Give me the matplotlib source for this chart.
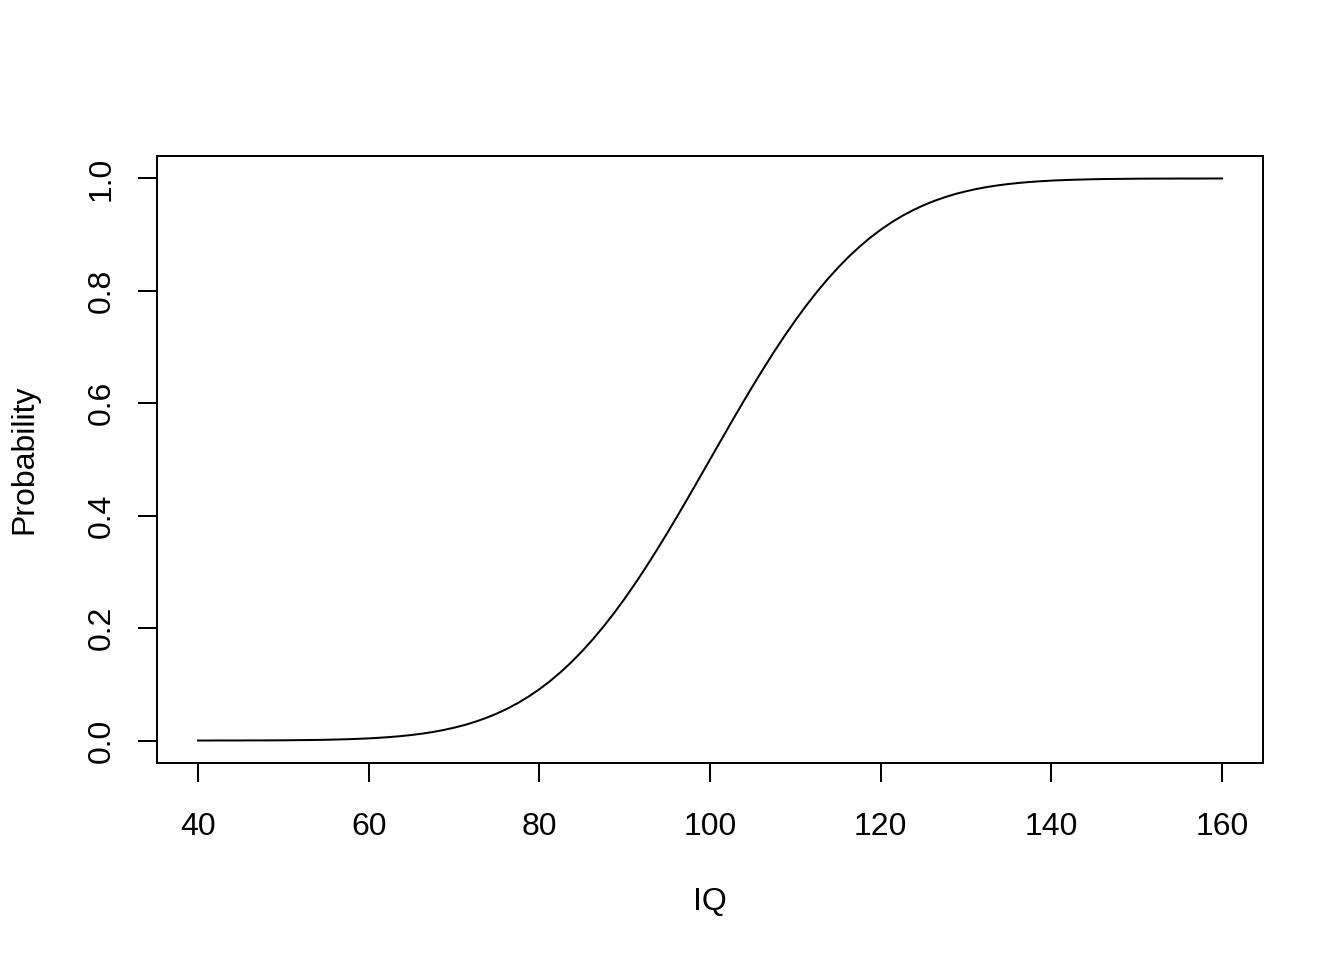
import matplotlib
matplotlib.use("Agg")
import matplotlib.pyplot as plt

# probability curve, every 1.25 IQ points
iq = [40, 41.25, 42.5, 43.75, 45, 46.25, 47.5, 48.75,
      50, 51.25, 52.5, 53.75, 55, 56.25, 57.5, 58.75,
      60, 61.25, 62.5, 63.75, 65, 66.25, 67.5, 68.75,
      70, 71.25, 72.5, 73.75, 75, 76.25, 77.5, 78.75,
      80, 81.25, 82.5, 83.75, 85, 86.25, 87.5, 88.75,
      90, 91.25, 92.5, 93.75, 95, 96.25, 97.5, 98.75,
      100, 101.25, 102.5, 103.75, 105, 106.25, 107.5, 108.75,
      110, 111.25, 112.5, 113.75, 115, 116.25, 117.5, 118.75,
      120, 121.25, 122.5, 123.75, 125, 126.25, 127.5, 128.75,
      130, 131.25, 132.5, 133.75, 135, 136.25, 137.5, 138.75,
      140, 141.25, 142.5, 143.75, 145, 146.25, 147.5, 148.75,
      150, 151.25, 152.5, 153.75, 155, 156.25, 157.5, 158.75, 160]
prob = [0.0000, 0.0000, 0.0001, 0.0001, 0.0001, 0.0002, 0.0002, 0.0003,
        0.0004, 0.0006, 0.0008, 0.0010, 0.0013, 0.0018, 0.0023, 0.0030,
        0.0038, 0.0049, 0.0062, 0.0078, 0.0098, 0.0122, 0.0151, 0.0186,
        0.0228, 0.0276, 0.0334, 0.0401, 0.0478, 0.0567, 0.0668, 0.0783,
        0.0912, 0.1056, 0.1217, 0.1393, 0.1587, 0.1797, 0.2023, 0.2266,
        0.2525, 0.2798, 0.3085, 0.3385, 0.3694, 0.4013, 0.4338, 0.4668,
        0.5000, 0.5332, 0.5662, 0.5987, 0.6306, 0.6615, 0.6915, 0.7202,
        0.7475, 0.7734, 0.7977, 0.8203, 0.8413, 0.8607, 0.8783, 0.8944,
        0.9088, 0.9217, 0.9332, 0.9433, 0.9522, 0.9599, 0.9666, 0.9724,
        0.9772, 0.9814, 0.9849, 0.9878, 0.9902, 0.9922, 0.9938, 0.9951,
        0.9962, 0.9970, 0.9977, 0.9982, 0.9987, 0.9990, 0.9992, 0.9994,
        0.9996, 0.9997, 0.9998, 0.9998, 0.9999, 0.9999, 0.9999, 1.0000, 1.0000]

xticks = [40, 60, 80, 100, 120, 140, 160]
yticks = [0.0, 0.2, 0.4, 0.6, 0.8, 1.0]

plt.rcParams['font.family'] = ['Liberation Sans', 'DejaVu Sans']
plt.rcParams['font.size'] = 12

fig = plt.figure(figsize=(7, 5), dpi=192)
ax = fig.add_axes([157/1344, 1 - 763/960, (1263-157)/1344, (763-156)/960])

ax.plot(iq, prob, color='black', lw=0.75, solid_joinstyle='round')

ax.set_xlim(35.2, 164.8)
ax.set_ylim(-0.04, 1.04)
ax.set_xticks(xticks)
ax.set_xticklabels([str(t) for t in xticks])
ax.set_yticks(yticks)
ax.set_yticklabels(['%.1f' % t for t in yticks], rotation=90, va='center')

for s in ax.spines.values():
    s.set_linewidth(0.75)
ax.tick_params(direction='out', length=7.2, width=0.75)
ax.tick_params(axis='x', pad=11)
ax.tick_params(axis='y', pad=8)

ax.set_xlabel('IQ', labelpad=17)
ax.set_ylabel('Probability', labelpad=17.5)

fig.savefig('out.png', dpi=192)
